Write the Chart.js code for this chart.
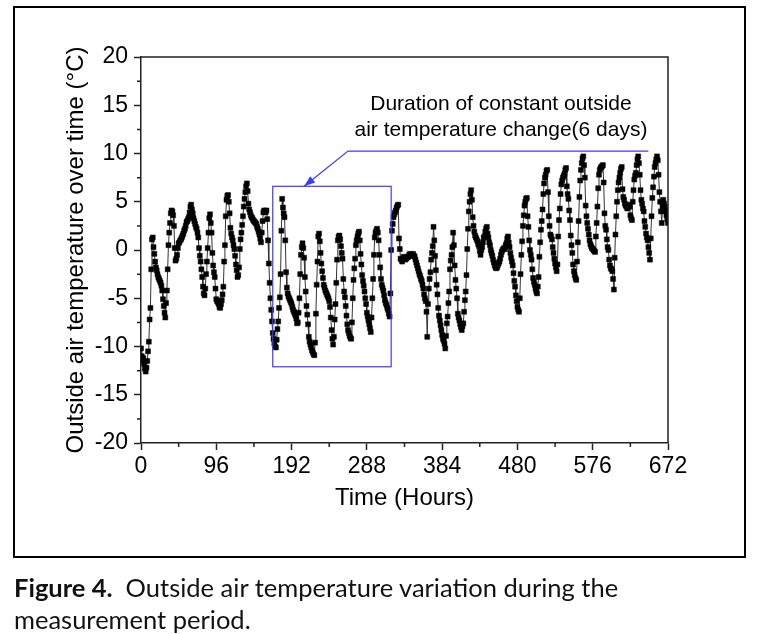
<!DOCTYPE html>
<html><head><meta charset="utf-8">
<script src="https://cdn.jsdelivr.net/npm/chart.js@4.4.1/dist/chart.umd.min.js"></script>
<style>
html,body{margin:0;padding:0;background:#fff;}
#wrap{position:relative;width:770px;height:634px;overflow:hidden;background:#fff;}
#frame{position:absolute;left:13px;top:6px;width:729px;height:548px;border:2px solid #000;}
#c{position:absolute;left:0;top:0;}
#cap{position:absolute;left:14px;top:571px;font-family:Lato,'Open Sans',sans-serif;font-size:25.5px;line-height:32px;color:#111;white-space:nowrap;}
#cap b{font-weight:700;}
</style></head>
<body><div id="wrap"><div id="frame"></div><canvas id="c" width="770" height="634"></canvas>
<div id="cap"><b>Figure 4.</b>&nbsp; Outside air temperature variation during the<br>measurement period.</div></div>
<script>
// hourly outside air temperature (°C), hour 0 .. 672
const startHour = 0;
const stepHours = 1;
const temps = [
-10.2,-11.0,-11.5,-11.2,-11.8,-12.3,-12.6,-12.2,-11.5,-10.5,-9.5,-7.2,-6.0,-2.0,1.1,1.3,0.3,-0.4,-1.2,-1.8,-2.1,-2.5,-2.8,-3.0,
-3.2,-3.4,-3.7,-4.2,-5.1,-5.8,-6.5,-7.0,-5.5,-4.2,-2.0,0.5,1.8,2.8,3.8,4.1,4.0,3.6,2.5,0.2,-1.1,-0.9,-0.5,0.2,
0.7,0.8,1.0,1.1,1.3,1.5,1.7,2.0,2.2,2.5,2.9,3.0,3.2,3.4,3.9,4.5,4.7,4.2,3.8,3.3,3.0,2.7,2.4,2.2,
1.8,1.3,0.2,-0.6,-1.2,-2.0,-2.8,-3.8,-4.5,-4.7,-4.0,-2.5,-1.2,0.2,1.8,3.3,3.7,2.8,1.8,-0.3,-1.6,-2.3,-2.8,-4.0,
-5.1,-5.3,-5.4,-5.6,-5.9,-6.0,-5.6,-5.2,-4.6,-3.8,-1.2,0.5,3.5,5.2,5.6,5.7,5.0,3.8,2.3,1.7,1.3,1.0,0.5,0.1,
-0.6,-1.5,-2.1,-2.8,-2.6,-1.8,0.1,1.1,1.8,2.6,3.5,4.5,5.3,6.0,6.6,6.9,6.1,4.8,4.2,3.9,3.6,3.4,3.3,3.1,
3.0,2.9,2.8,2.7,2.4,2.2,1.9,1.6,1.2,0.8,1.8,3.0,3.9,4.1,4.0,3.9,4.1,3.2,1.0,-1.4,-3.4,-5.0,-6.2,-7.4,
-8.6,-9.2,-9.7,-10.0,-10.1,-9.3,-8.2,-7.4,-6.0,-4.9,-2.5,2.0,5.3,4.4,3.8,3.4,1.0,-2.3,-3.9,-4.5,-4.8,-5.0,-5.2,-5.4,
-5.6,-5.9,-6.2,-6.4,-6.6,-6.8,-7.1,-7.6,-7.5,-6.5,-5.0,-2.5,-0.5,0.3,0.7,0.2,-0.8,-2.8,-4.3,-5.8,-6.7,-7.7,-9.0,-9.5,
-9.8,-10.1,-10.4,-10.6,-10.8,-10.9,-9.6,-6.6,-3.6,-1.2,1.4,1.7,0.9,-0.3,-1.4,-2.2,-2.9,-3.6,-3.9,-4.2,-4.4,-4.6,-4.8,-5.0,
-5.3,-5.9,-7.0,-8.3,-9.2,-9.8,-9.0,-7.2,-5.6,-3.4,-1.0,1.0,1.4,1.5,1.1,0.4,-0.3,-0.9,-3.0,-4.3,-4.9,-5.8,-6.8,-7.7,
-8.3,-8.6,-8.9,-9.1,-9.2,-7.5,-5.0,-3.1,-1.9,-0.9,0.5,1.0,1.4,1.7,1.9,1.0,-0.4,-1.5,-2.6,-3.2,-3.7,-4.3,-5.0,-5.6,
-6.5,-6.9,-7.3,-7.7,-8.1,-8.5,-7.0,-5.0,-3.0,-0.5,1.3,1.8,2.0,2.2,1.8,1.0,-0.5,-1.8,-3.0,-3.6,-3.9,-4.2,-4.7,-5.2,
-5.5,-5.7,-6.0,-6.2,-6.6,-6.9,-4.5,0.0,2.0,2.7,3.4,3.7,3.9,4.1,4.4,4.6,4.7,1.2,0.1,-0.9,-1.0,-1.2,-0.9,-0.7,
-0.9,-1.0,-0.9,-0.8,-0.7,-0.7,-0.5,-0.4,-0.5,-0.6,-0.5,-0.4,-0.6,-0.7,-1.0,-1.3,-1.6,-1.9,-2.2,-2.5,-2.7,-3.0,-3.2,-3.6,
-4.0,-4.6,-5.0,-5.3,-6.4,-9.0,-5.6,-4.0,-3.0,-2.3,-1.0,-0.3,0.4,2.4,1.0,-0.6,-2.1,-3.6,-4.6,-6.0,-6.8,-7.3,-7.8,-8.3,
-8.8,-9.2,-9.4,-9.7,-10.2,-8.9,-7.6,-6.9,-5.5,-4.3,-2.0,-1.1,-0.5,0.3,1.8,0.5,-1.6,-3.1,-4.0,-5.0,-6.6,-7.0,-7.3,-7.7,
-8.0,-8.3,-7.9,-7.6,-6.4,-5.2,-4.3,-2.6,0.1,2.2,4.0,5.0,5.8,6.2,5.2,3.4,2.5,1.9,1.5,1.3,1.1,0.9,0.6,0.4,
-0.1,-0.5,0.0,0.3,0.8,1.3,1.4,1.9,2.2,2.4,1.7,1.3,0.8,0.5,0.0,-0.3,-0.6,-1.0,-1.3,-1.6,-1.8,-1.9,-1.8,-1.6,
-1.4,-1.2,-0.9,-0.5,-0.2,0.0,0.1,0.2,0.1,0.5,0.7,1.2,1.4,0.8,0.3,-0.3,-0.8,-1.2,-1.6,-2.4,-3.2,-3.8,-4.7,-5.3,
-5.9,-6.2,-6.4,-5.0,-2.5,-0.5,0.9,2.5,3.6,4.6,5.0,5.3,5.4,3.5,2.4,1.0,0.0,-0.5,-1.0,-2.0,-2.9,-3.3,-3.6,-4.0,
-4.3,-4.5,-3.8,-2.8,-0.7,0.8,2.1,3.0,4.2,5.8,6.9,7.5,7.8,8.2,8.3,6.0,3.5,2.5,1.6,1.4,1.1,0.3,-0.3,-0.9,
-1.4,-1.8,-2.2,-1.5,1.4,3.1,4.3,5.8,6.8,7.2,7.5,7.7,7.9,8.3,8.5,6.6,5.8,5.3,4.1,3.1,1.5,0.5,-0.3,-1.5,
-2.2,-2.6,-2.9,-3.1,-1.2,0.8,3.0,5.5,7.2,8.3,9.0,9.5,9.7,8.8,7.5,4.6,3.5,2.8,2.2,1.6,1.0,0.6,0.4,0.2,
0.1,0.0,-0.1,-0.2,1.4,2.8,4.5,6.4,7.8,8.3,8.5,8.6,8.7,8.8,7.0,3.8,2.5,2.1,1.1,0.3,0.0,-1.0,-1.6,-1.9,
-2.0,-2.2,-3.0,-4.1,-0.8,1.6,3.5,5.0,6.2,7.0,7.5,8.0,8.4,8.6,6.3,5.5,5.2,4.8,4.6,4.5,4.3,4.4,4.7,4.5,
3.6,3.3,3.1,5.0,6.2,7.3,7.7,8.0,8.8,9.4,9.7,9.0,7.8,6.2,5.2,4.8,4.3,4.0,3.0,2.4,1.7,1.3,1.0,0.3,
-0.3,-1.0,1.2,3.5,5.4,6.5,7.6,8.6,9.0,9.4,9.7,9.3,7.8,6.0,5.0,4.0,2.8,4.5,5.2,4.8,4.5,4.0,3.6,3.2,
2.8
];
const xTicks = [0, 96, 192, 288, 384, 480, 576, 672];
const xMinorTicks = [48, 144, 240, 336, 432, 528, 624];
const yTicks = [-20, -15, -10, -5, 0, 5, 10, 15, 20];
const yMinorTicks = [-17.5, -12.5, -7.5, -2.5, 2.5, 7.5, 12.5, 17.5];
// annotation (data coordinates)
const boxRange = {x0: 168, x1: 319, y0: -12.1, y1: 6.6};
const leaderLine = {x0: 264, x1: 647, y: 10.25};
const arrowTip = {x: 208, y: 6.6};
const noteLines = ['Duration of constant outside', 'air temperature change(6 days)'];
const noteAnchor = {x: 459, y: [15.1, 12.45]};

const points = temps.map((v, i) => ({x: startHour + i * stepHours, y: v}));
const FONT = "'Liberation Sans', Arial, sans-serif";

const extras = {
  id: 'extras',
  afterDatasetsDraw(chart) {
    const {ctx, scales: {x, y}} = chart;
    const blue = '#3b3bff';
    ctx.save();
    ctx.strokeStyle = blue; ctx.lineWidth = 1.2;
    const bx0 = x.getPixelForValue(boxRange.x0), bx1 = x.getPixelForValue(boxRange.x1);
    const by0 = y.getPixelForValue(boxRange.y0), by1 = y.getPixelForValue(boxRange.y1);
    ctx.strokeRect(bx0, by1, bx1 - bx0, by0 - by1);
    const lx0 = x.getPixelForValue(leaderLine.x0), lx1 = x.getPixelForValue(leaderLine.x1);
    const ly = y.getPixelForValue(leaderLine.y);
    const tx = x.getPixelForValue(arrowTip.x), ty = y.getPixelForValue(arrowTip.y);
    ctx.beginPath(); ctx.moveTo(lx1, ly); ctx.lineTo(lx0, ly); ctx.lineTo(tx, ty); ctx.stroke();
    const ang = Math.atan2(ty - ly, tx - lx0);
    const L = 11, W = 4;
    ctx.fillStyle = blue;
    ctx.beginPath();
    ctx.moveTo(tx, ty);
    ctx.lineTo(tx - L * Math.cos(ang) + W * Math.sin(ang), ty - L * Math.sin(ang) - W * Math.cos(ang));
    ctx.lineTo(tx - L * Math.cos(ang) - W * Math.sin(ang), ty - L * Math.sin(ang) + W * Math.cos(ang));
    ctx.closePath(); ctx.fill();
    ctx.fillStyle = '#000';
    ctx.font = '21px ' + FONT;
    ctx.textAlign = 'center'; ctx.textBaseline = 'middle';
    const nx = x.getPixelForValue(noteAnchor.x);
    noteLines.forEach((t, i) => ctx.fillText(t, nx, y.getPixelForValue(noteAnchor.y[i])));
    ctx.restore();
  },
  afterDraw(chart) {
    const {ctx, chartArea: a, scales: {x, y}} = chart;
    ctx.save();
    ctx.strokeStyle = '#222'; ctx.lineWidth = 1.5;
    ctx.beginPath();
    ctx.moveTo(a.left, a.top); ctx.lineTo(a.right, a.top); ctx.lineTo(a.right, a.bottom);
    xMinorTicks.forEach(v => { const p = x.getPixelForValue(v); ctx.moveTo(p, a.bottom); ctx.lineTo(p, a.bottom + 4); });
    yMinorTicks.forEach(v => { const p = y.getPixelForValue(v); ctx.moveTo(a.left, p); ctx.lineTo(a.left - 4, p); });
    ctx.stroke();
    ctx.restore();
  }
};

new Chart(document.getElementById('c'), {
  type: 'line',
  data: {datasets: [{
    data: points,
    borderColor: '#333', borderWidth: 1,
    pointStyle: 'rect', pointRadius: 3.5, pointBorderWidth: 0.5,
    pointBackgroundColor: '#000', pointBorderColor: '#000',
    tension: 0
  }]},
  options: {
    responsive: false, animation: false,
    layout: {padding: {top: 57, right: 102, left: 0, bottom: 121}},
    plugins: {legend: {display: false}, tooltip: {enabled: false}},
    scales: {
      x: {
        type: 'linear', min: 0, max: 672,
        afterBuildTicks: s => { s.ticks = xTicks.map(v => ({value: v})); },
        afterFit: s => { s.height = 70; },
        ticks: {font: {size: 23, family: FONT}, color: '#000', padding: 3, maxRotation: 0, autoSkip: false},
        grid: {drawOnChartArea: false, drawTicks: true, tickLength: 7, tickColor: '#222', tickWidth: 1.5},
        border: {display: true, color: '#222', width: 1.5},
        title: {display: true, text: 'Time (Hours)', font: {size: 24, family: FONT}, color: '#000', padding: {top: 0, bottom: 0}}
      },
      y: {
        min: -20, max: 20,
        afterBuildTicks: s => { s.ticks = yTicks.map(v => ({value: v})); },
        afterFit: s => { s.width = 141; },
        ticks: {font: {size: 23, family: FONT}, color: '#000', padding: 6},
        grid: {drawOnChartArea: false, drawTicks: true, tickLength: 7, tickColor: '#222', tickWidth: 1.5},
        border: {display: true, color: '#222', width: 1.5},
        title: {display: true, text: 'Outside air temperature over time (°C)', font: {size: 24, family: FONT}, color: '#000', padding: {top: 62, bottom: 0}}
      }
    }
  },
  plugins: [extras]
});
</script></body></html>
